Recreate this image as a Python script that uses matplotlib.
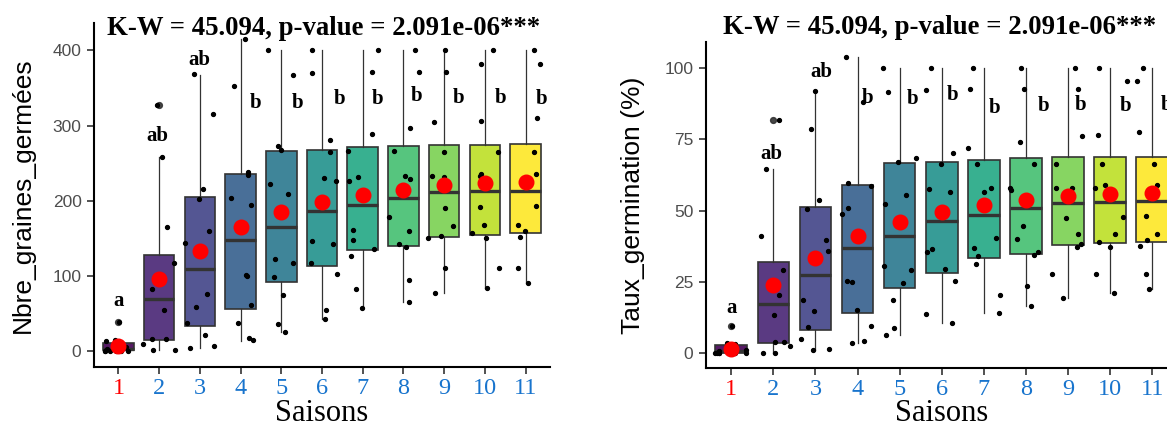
import numpy as np
import matplotlib
matplotlib.use("Agg")
import matplotlib.pyplot as plt

SERIF = "Liberation Serif"
SANS = "Liberation Sans"

seasons = [str(i) for i in range(1, 12)]
title_text = "K-W = 45.094, p-value = 2.091e-06***"
letters = ["a", "ab", "ab", "b", "b", "b", "b", "b", "b", "b", "b"]

# ---- Nbre_graines_germees (left panel) ----
nb_q1 = [1.3, 14.2, 33.3, 56.5, 92.5, 113.3, 134.2, 140.0, 152.0, 154.2, 156.9]
nb_med = [3.0, 68.9, 109.8, 148.0, 165.3, 185.8, 194.2, 203.1, 211.1, 212.4, 213.3]
nb_q3 = [11.1, 127.6, 205.3, 235.6, 266.7, 268.0, 271.1, 273.3, 274.7, 274.7, 275.6]
nb_lo = [0.0, 1.0, 4.5, 14.0, 25.8, 42.2, 56.9, 65.8, 77.8, 84.4, 90.2]
nb_hi = [14.7, 257.8, 367.6, 415.6, 400.0, 400.0, 400.0, 400.0, 400.0, 400.0, 400.0]
nb_mean = [6.7, 95.6, 133.3, 164.5, 184.5, 197.8, 208.0, 214.7, 220.9, 223.6, 225.3]
nb_out = [[38.7], [326.7], [], [], [], [], [], [], [], [], []]
nb_letter_y = [60.0, 279.2, 380.1, 323.6, 323.6, 328.1, 328.1, 332.5, 330.3, 330.3, 328.1]
nb_points = [
    [0, 0, 0, 0, 0, 0, 1, 3, 5, 13, 14.7, 38.7],
    [326.7, 257.8, 164.5, 116.5, 82, 54.2, 16.5, 15.6, 9.8, 1, 1],
    [368, 314.7, 215.6, 202.2, 159.1, 143.1, 75.6, 59.1, 36.9, 20.9, 6.7, 4.5],
    [415.6, 352.5, 238.7, 234.7, 203.1, 194.7, 101.3, 100, 61.3, 37.8, 17.8, 14.2],
    [400, 366.7, 273.3, 268, 222.2, 208.9, 122.2, 116.5, 98.7, 74.7, 35.6, 25.8],
    [400, 369.8, 281.3, 265, 229.8, 226.7, 146.7, 142.2, 117.8, 102.2, 54.7, 42.2],
    [400, 371.1, 288.4, 265.8, 231.1, 226.7, 161.3, 147.6, 136.4, 125.8, 82.2, 56.9],
    [400, 371.1, 296.4, 265.8, 232.5, 228.9, 178.7, 160, 142.2, 137.8, 94.7, 65.8],
    [400, 371.1, 304.5, 265.3, 232.5, 232, 189.8, 166.7, 153.3, 149.8, 111.1, 77.8],
    [400, 382.2, 305.8, 265.3, 235.6, 232.5, 191.1, 167.6, 156.4, 149.8, 111.1, 84.4],
    [400, 382.2, 309.8, 265.3, 235.6, 193.3, 168, 159.1, 151.1, 111.1, 90.2],
]

# ---- Taux_germination (right panel) ----
tx_q1 = [0.3, 3.55, 8.3, 14.1, 23.1, 28.3, 33.5, 35.0, 38.0, 38.55, 39.2]
tx_med = [0.75, 17.2, 27.45, 37.0, 41.3, 46.45, 48.55, 50.8, 52.8, 53.1, 53.3]
tx_q3 = [2.8, 31.9, 51.3, 58.9, 66.7, 67.0, 67.8, 68.3, 68.7, 68.7, 68.9]
tx_lo = [0.0, 0.25, 1.1, 3.55, 6.45, 10.55, 14.2, 16.45, 19.45, 21.1, 22.55]
tx_hi = [3.7, 64.45, 92.0, 103.9, 100.0, 100.0, 100.0, 100.0, 100.0, 100.0, 100.0]
tx_mean = [1.7, 23.9, 33.3, 41.1, 46.1, 49.45, 52.0, 53.7, 55.2, 55.9, 56.3]
tx_out = [[9.7], [81.7], [], [], [], [], [], [], [], [], []]
tx_letter_y = [14.3, 68.0, 96.9, 87.6, 87.3, 88.7, 84.1, 85.0, 85.2, 85.0, 85.2]
tx_points = [
    [0, 0, 0, 0, 0, 0, 0.25, 0.75, 1.25, 3.25, 3.7, 9.7],
    [81.7, 64.45, 41.1, 29.1, 20.5, 13.55, 4.1, 3.9, 2.45, 0.25, 0.25],
    [92, 78.7, 53.9, 50.55, 39.8, 35.8, 18.9, 14.8, 9.2, 5.2, 1.7, 1.1],
    [103.9, 88.1, 59.7, 58.7, 50.8, 48.7, 25.3, 25, 15.3, 9.45, 4.45, 3.55],
    [100, 91.7, 68.3, 67, 55.55, 52.2, 30.55, 29.1, 24.7, 18.7, 8.9, 6.45],
    [100, 92.45, 70.3, 66.25, 57.45, 56.7, 36.7, 35.55, 29.45, 25.55, 13.7, 10.55],
    [100, 92.8, 72.1, 66.45, 57.8, 56.7, 40.3, 36.9, 34.1, 31.45, 20.55, 14.2],
    [100, 92.8, 74.1, 66.45, 58.1, 57.2, 44.7, 40, 35.55, 34.45, 23.7, 16.45],
    [100, 92.8, 76.1, 66.3, 58.1, 58, 47.45, 41.7, 38.3, 37.45, 27.8, 19.45],
    [100, 95.55, 76.45, 66.3, 58.9, 58.1, 47.8, 41.9, 39.1, 37.45, 27.8, 21.1],
    [100, 95.55, 77.45, 66.3, 58.9, 48.3, 42, 39.8, 37.8, 27.8, 22.55],
]

# horizontal nudge of the significance letters (layout only)
nb_letter_dx = [0, -0.05, 0, 0.36, 0.40, 0.42, 0.36, 0.32, 0.36, 0.38, 0.39]
tx_letter_dx = [0, -0.04, 0.14, 0.24, 0.31, 0.25, 0.25, 0.41, 0.29, 0.36, 0.34]

EDGE = "#333333"
BLUE = "#1874CD"


def draw_panel(ax, q1, med, q3, lo, hi, means, outs, points, letter_y, letter_dx,
               ylim, yticks, ylabel, seed, xlab_y):
    pos = np.arange(1, len(seasons) + 1)
    stats = [dict(q1=q1[i], med=med[i], q3=q3[i], whislo=lo[i], whishi=hi[i],
                  fliers=outs[i]) for i in range(len(pos))]
    bp = ax.bxp(stats, positions=pos, widths=0.75, patch_artist=True,
                showcaps=False, showfliers=True,
                boxprops=dict(edgecolor=EDGE, linewidth=1.2),
                medianprops=dict(color=EDGE, linewidth=2.4),
                whiskerprops=dict(color=EDGE, linewidth=0.9),
                flierprops=dict(marker="o", markersize=4.2, markerfacecolor=EDGE,
                                markeredgecolor=EDGE, alpha=0.9))
    colors = plt.cm.viridis(np.linspace(0, 1, len(pos)))
    for patch, c in zip(bp["boxes"], colors):
        patch.set_facecolor((c[0], c[1], c[2], 0.9))

    # jittered raw observations
    rng = np.random.default_rng(seed)
    for x, vals in zip(pos, points):
        jx = x + rng.uniform(-0.4, 0.4, len(vals))
        ax.plot(jx, vals, "o", ms=2.8, color="black", ls="none", zorder=3)

    ax.plot(pos, means, "o", ms=10.5, color="red", ls="none", zorder=4)

    for x, lab, y, dx in zip(pos, letters, letter_y, letter_dx):
        ax.text(x + dx, y, lab, ha="center", va="baseline", fontsize=15,
                fontweight="bold", family=SERIF, zorder=5)

    ax.set_xlim(0.4, 11.6)
    ax.set_ylim(*ylim)
    ax.set_xticks(pos)
    ax.set_xticklabels(seasons, family=SERIF, fontsize=17.5)
    for i, t in enumerate(ax.get_xticklabels()):
        t.set_color("red" if i == 0 else BLUE)
    ax.set_yticks(yticks)
    ax.set_yticklabels([str(v) for v in yticks], family=SANS, fontsize=12.5,
                       color="#4D4D4D")
    for s in ("top", "right"):
        ax.spines[s].set_visible(False)
    for s in ("left", "bottom"):
        ax.spines[s].set_linewidth(1.5)
    ax.tick_params(axis="both", direction="out", length=5, width=1.2,
                   color=EDGE)
    ax.tick_params(axis="x", pad=3)
    ax.tick_params(axis="y", pad=4)

    ax.text(0.5, xlab_y, "Saisons", transform=ax.transAxes, ha="center",
            va="baseline", family=SERIF, fontsize=22)
    ax.text(-0.155, 0.5, ylabel, transform=ax.transAxes, ha="center",
            va="center", rotation=90, family=SANS, fontsize=19)


W, H = 1167, 426
fig = plt.figure(figsize=(W / 100, H / 100), dpi=100)

ax1 = fig.add_axes([94 / W, (H - 366.7) / H, 456 / W, 343.7 / H])
draw_panel(ax1, nb_q1, nb_med, nb_q3, nb_lo, nb_hi, nb_mean, nb_out, nb_points,
           nb_letter_y, nb_letter_dx, (-20.8, 436.4), [0, 100, 200, 300, 400],
           "Nbre_graines_germées", 3, -0.158)

ax2 = fig.add_axes([706 / W, (H - 368.3) / H, 471.5 / W, 326.3 / H])
draw_panel(ax2, tx_q1, tx_med, tx_q3, tx_lo, tx_hi, tx_mean, tx_out, tx_points,
           tx_letter_y, tx_letter_dx, (-5.2, 109.1), [0, 25, 50, 75, 100],
           "Taux_germination (%)", 11, -0.1630)

fig.text(324 / W, (H - 35) / H, title_text, ha="center", va="baseline",
         family=SERIF, fontweight="bold", fontsize=19.3)
fig.text(940 / W, (H - 33.5) / H, title_text, ha="center", va="baseline",
         family=SERIF, fontweight="bold", fontsize=19.3)

fig.savefig("out.png", dpi=100)
